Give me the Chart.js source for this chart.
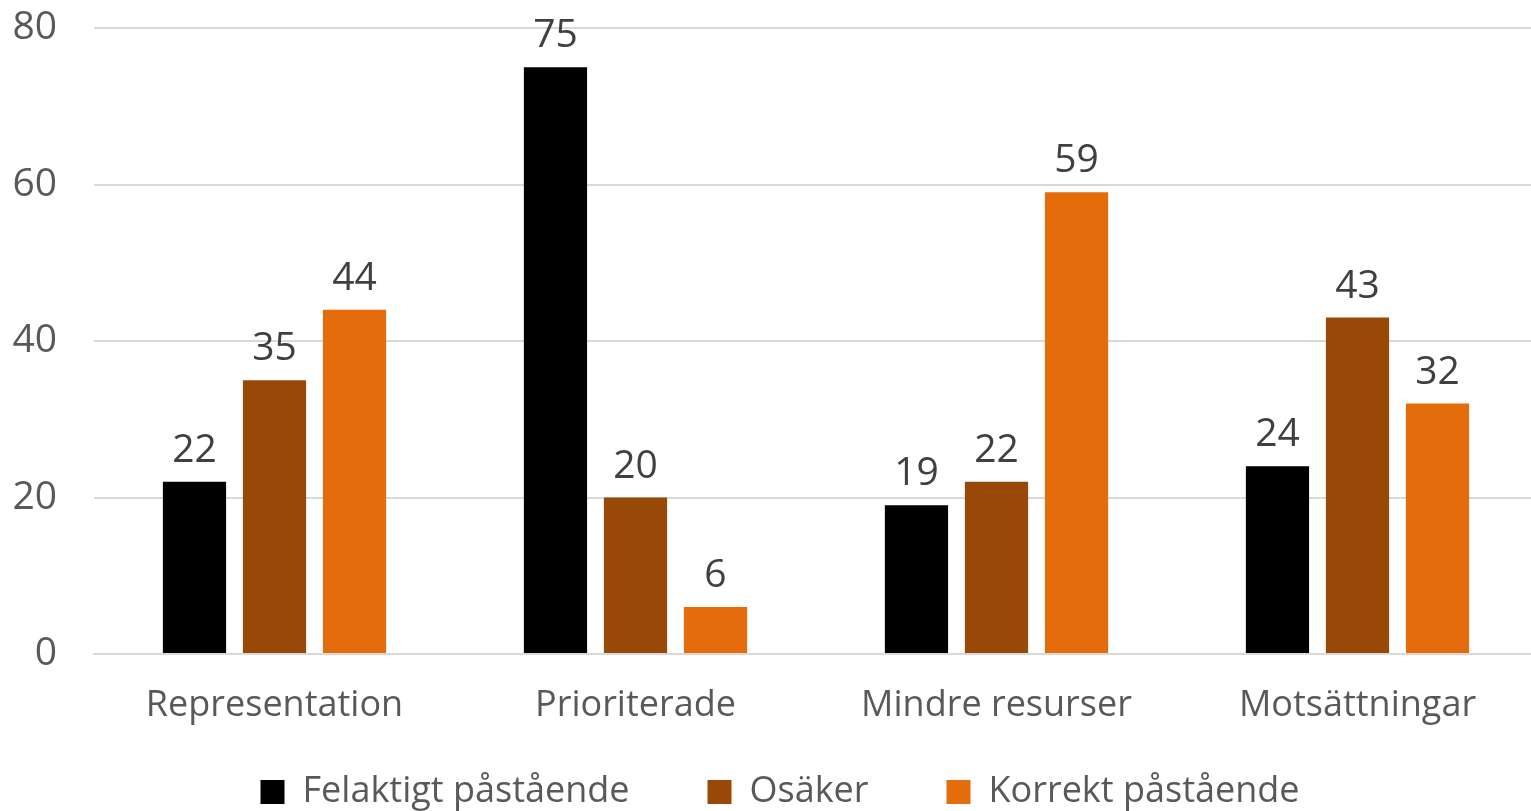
<!DOCTYPE html>
<html><head><meta charset="utf-8">
<script src="https://cdn.jsdelivr.net/npm/chart.js@4/dist/chart.umd.min.js"></script>
<style>html,body{margin:0;padding:0;background:#fff;overflow:hidden;}#wrap{width:1531px;height:811px;overflow:hidden;}</style>
</head><body><div id="wrap"><canvas id="c" width="1538" height="811"></canvas></div>
<script>
const categories = ["Representation", "Prioriterade", "Mindre resurser", "Motsättningar"];
const seriesNames = ["Felaktigt påstående", "Osäker", "Korrekt påstående"];
const felaktigt = [22, 75, 19, 24];
const osaker = [35, 20, 22, 43];
const korrekt = [44, 6, 59, 32];
const yTicks = [0, 20, 40, 60, 80];
const colors = ["#000000", "#984807", "#E46C0A"];
const FONT = "'Open Sans', 'Noto Sans', sans-serif";

const valueLabels = {
  id: 'valueLabels',
  afterDatasetsDraw(chart) {
    const ctx = chart.ctx;
    ctx.save();
    ctx.font = "39px " + FONT;
    ctx.fillStyle = "#404040";
    ctx.textAlign = "center";
    ctx.textBaseline = "alphabetic";
    chart.data.datasets.forEach((ds, i) => {
      chart.getDatasetMeta(i).data.forEach((bar, j) => {
        ctx.fillText(String(ds.data[j]), bar.x, bar.y - 20);
      });
    });
    ctx.restore();
  }
};

const legendShift = {
  id: 'legendShift',
  afterLayout(chart) {
    const lg = chart.legend;
    if (lg) {
      lg.top = 774 - lg.options.labels.padding;
      lg.left += 11;
      lg.right += 11;
    }
  }
};

new Chart(document.getElementById('c'), {
  type: 'bar',
  data: {
    labels: categories,
    datasets: [
      {label: seriesNames[0], data: felaktigt, backgroundColor: colors[0]},
      {label: seriesNames[1], data: osaker, backgroundColor: colors[1]},
      {label: seriesNames[2], data: korrekt, backgroundColor: colors[2]}
    ]
  },
  options: {
    responsive: false,
    animation: false,
    devicePixelRatio: 1,
    layout: {padding: {top: 28, right: 0, left: 0, bottom: 0}},
    datasets: {bar: {categoryPercentage: 0.665, barPercentage: 0.79}},
    plugins: {
      legend: {
        position: 'bottom',
        maxHeight: 65,
        labels: {
          font: {family: FONT, size: 36},
          color: '#595959',
          boxWidth: 24, boxHeight: 24,
          padding: 78
        }
      },
      tooltip: {enabled: false}
    },
    scales: {
      x: {
        grid: {display: false, drawTicks: false},
        border: {color: '#d9d9d9', width: 2},
        ticks: {font: {family: FONT, size: 36}, color: '#595959', padding: 30, maxRotation: 0},
        afterFit(s) { s.height = 92; s.paddingLeft = 0; s.paddingRight = 0; }
      },
      y: {
        min: 0, max: 80,
        afterBuildTicks(s) { s.ticks = yTicks.map(v => ({value: v})); },
        grid: {color: '#d9d9d9', lineWidth: 2, drawTicks: false},
        border: {display: false},
        ticks: {font: {family: FONT, size: 39}, color: '#595959', padding: 37},
        afterFit(s) { s.width = 94; s.paddingTop = 0; s.paddingBottom = 0; }
      }
    }
  },
  plugins: [valueLabels, legendShift]
});
</script></body></html>
